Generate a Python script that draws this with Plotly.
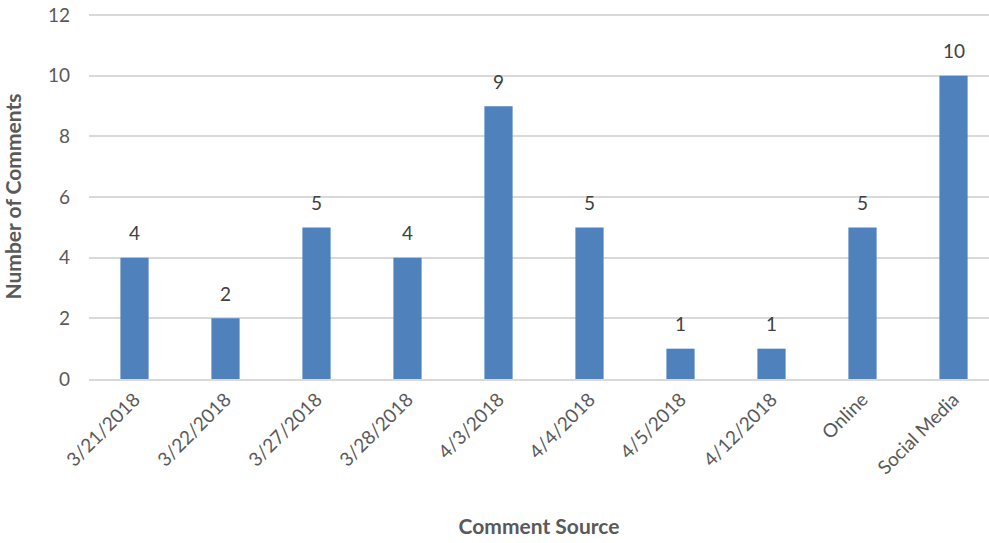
import plotly.graph_objects as go

categories = ["3/21/2018", "3/22/2018", "3/27/2018", "3/28/2018", "4/3/2018",
              "4/4/2018", "4/5/2018", "4/12/2018", "Online", "Social Media"]
comments = [4, 2, 5, 4, 9, 5, 1, 1, 5, 10]
y_ticks = [0, 2, 4, 6, 8, 10, 12]

FONT = "Lato, Open Sans, sans-serif"
GREY = "#595959"

fig = go.Figure()
fig.add_trace(go.Bar(
    x=categories,
    y=comments,
    width=0.31,
    marker=dict(color="#4F81BD", line=dict(width=0)),
    hoverinfo="x+y",
))

# data labels sit a bit above each bar, like Excel
for c, v in zip(categories, comments):
    fig.add_annotation(x=c, y=v, text=str(v), showarrow=False, yshift=25,
                       font=dict(size=19, color="#404040", family=FONT))

fig.update_layout(
    width=989, height=543,
    margin=dict(l=89, r=0, t=14, b=164, autoexpand=False),
    plot_bgcolor="white",
    paper_bgcolor="white",
    font=dict(family=FONT, color=GREY),
    showlegend=False,
    xaxis=dict(
        title=dict(text="<b>Comment Source</b>", font=dict(size=21, color=GREY), standoff=42),
        tickangle=-45,
        tickfont=dict(size=19, color=GREY),
        range=[-0.5, 9.39],
        showline=True, linecolor="#D9D9D9", linewidth=2,
        showgrid=False,
        ticks="",
        automargin=False,
    ),
    yaxis=dict(
        title=dict(text="<b>Number of Comments</b>", font=dict(size=21, color=GREY), standoff=22),
        range=[0, 12.04],
        tickvals=y_ticks,
        tickfont=dict(size=19, color=GREY),
        ticklabeloverflow="allow",
        gridcolor="#D9D9D9", gridwidth=1.5,
        zeroline=False,
        showline=False,
        ticks="",
        ticklabelstandoff=18,
        automargin=False,
    ),
)

# drop the default 8px page margin so the chart sits flush in the window
fig.write_html("out.html", config={"displayModeBar": False},
               post_script="document.body.style.margin='0';")
